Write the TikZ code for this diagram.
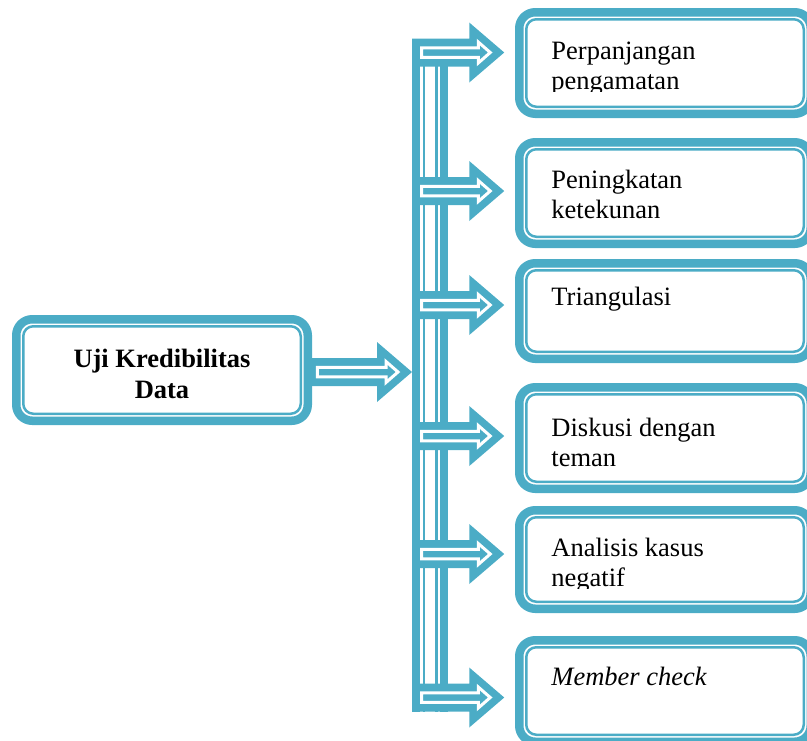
\documentclass[tikz,border=0pt]{standalone}
\usepackage{fontspec}
\setmainfont{Liberation Serif}
\usepackage{tikz}
\usetikzlibrary{positioning, calc}
\definecolor{ujibiru}{RGB}{75,172,198}

\newcommand{\panahblok}[2]{%
\fill[ujibiru] ($(#1)+(0,-14)$) -- ($(#2)+(-35,-14)$) -- ($(#2)+(-35,-30)$) -- (#2) -- ($(#2)+(-35,30)$) -- ($(#2)+(-35,14)$) -- ($(#1)+(0,14)$) -- cycle;
\filldraw[fill=ujibiru, draw=white, line width=3pt] ($(#1)+(9.5,-4.75)$) -- ($(#2)+(-26,-4.75)$) -- ($(#2)+(-26,-10.5)$) -- ($(#2)+(-14,0)$) -- ($(#2)+(-26,10.5)$) -- ($(#2)+(-26,4.75)$) -- ($(#1)+(9.5,4.75)$) -- cycle;}

\tikzset{
kotak/.style={draw=ujibiru, line width=8.5pt, rounded corners=16pt, fill=white, minimum width=291.5, inner sep=0pt, outer sep=0pt},
bingkai/.style={draw=ujibiru, line width=2.5pt, rounded corners=10pt},
isi/.style={anchor=north west, inner sep=0pt, align=left, font=\fontsize{26.5}{30}\selectfont}
}

\begin{document}
\begin{tikzpicture}[x=1pt, y=-1pt]
\useasboundingbox (0,0) rectangle (807,740);
\clip (0,0) rectangle (807,740);

%% kotak utama
\node[kotak, minimum height=101.5] (uji) at (162,370) {};
\node[font=\fontsize{26.5}{31}\selectfont\bfseries, align=center, inner sep=0pt] (ujit) at ($(uji.center)+(0,3.5)$) {Uji Kredibilitas\\Data};

%% kotak kanan
\foreach \i/\y/\h in {1/63/101.5, 2/193/101.5, 3/311/95.5, 4/438/101.5, 5/559.5/98.5, 6/691/101.5}
	\node[kotak, minimum height=\h] (p\i) at (665,\y) {};

\foreach \b in {uji, p1, p2, p3, p4, p5, p6}
	\draw[bingkai] ($(\b.north west)+(7,7)$) rectangle ($(\b.south east)+(-7,-7)$);

%% teks kotak 1 dan 5 terpotong di bawah
\begin{scope}
\clip ($(p1.north west)+(20,10)$) rectangle ($(p1.north east)+(-10,79)$);
\node[isi] (t1) at ($(p1.north west)+(32,29.9)$) {Perpanjangan\\pengamatan};
\end{scope}
\node[isi] (t2) at ($(p2.north west)+(32,27.9)$) {Peningkatan\\ketekunan};
\node[isi] (t3) at ($(p3.north west)+(32,23.9)$) {Triangulasi};
\node[isi] (t4) at ($(p4.north west)+(32,30.9)$) {Diskusi dengan\\teman};
\begin{scope}
\clip ($(p5.north west)+(20,10)$) rectangle ($(p5.north east)+(-10,78)$);
\node[isi] (t5) at ($(p5.north west)+(32,27.9)$) {Analisis kasus\\negatif};
\end{scope}
\node[isi] (t6) at ($(p6.north west)+(32,26.9)$) {\itshape Member check};

%% batang tegak
\node[fill=ujibiru, minimum width=36, minimum height=673, inner sep=0pt, outer sep=0pt] (batang) at (430,375.5) {};
\foreach \a/\b in {8/11, 13/23, 26/28}
	\fill[white] ($(batang.north west)+(\a,0)$) rectangle ($(batang.south west)+(\b,0)$);

%% panah
\coordinate (kiri) at ($(uji.east)+(0,2)$);
\coordinate (kiriujung) at (batang.west |- kiri);
\panahblok{kiri}{kiriujung}

\foreach \i/\d in {1/-10.5, 2/-2, 3/-6, 4/-2, 5/-5.5, 6/6.5} {
	\coordinate (u\i) at ($(p\i.west)+(-15,\d)$);
	\coordinate (s\i) at (batang.west |- u\i);
	\panahblok{s\i}{u\i}
}
\end{tikzpicture}
\end{document}
